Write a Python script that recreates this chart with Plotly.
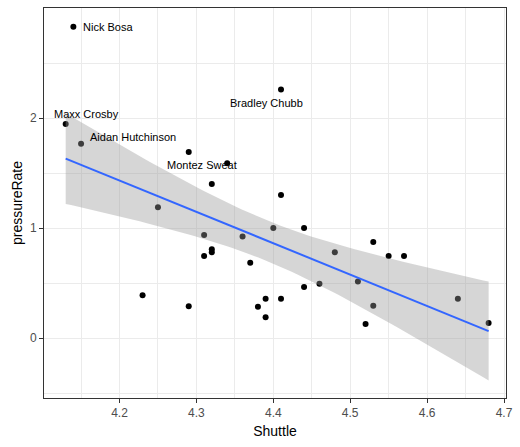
import numpy as np
import plotly.graph_objects as go

# ---- data ----
shuttle = [4.14, 4.13, 4.15, 4.29, 4.34, 4.32, 4.41, 4.41, 4.25, 4.31, 4.36, 4.40,
           4.44, 4.31, 4.32, 4.32, 4.37, 4.48, 4.53, 4.55, 4.57, 4.44, 4.46, 4.51,
           4.53, 4.52, 4.64, 4.68, 4.39, 4.41, 4.38, 4.39, 4.23, 4.29]
pressure_rate = [2.83, 1.945, 1.766, 1.69, 1.588, 1.40, 2.26, 1.30, 1.19, 0.936, 0.924, 1.00,
                 1.00, 0.745, 0.806, 0.78, 0.685, 0.78, 0.873, 0.745, 0.745, 0.464, 0.494, 0.515,
                 0.294, 0.127, 0.357, 0.136, 0.357, 0.357, 0.285, 0.188, 0.388, 0.29]
label_names = ["Nick Bosa", "Maxx Crosby", "Aidan Hutchinson", "Montez Sweat", "Bradley Chubb"]
label_index = [0, 1, 2, 4, 6]
x_ticks = [4.2, 4.3, 4.4, 4.5, 4.6, 4.7]
y_ticks = [0, 1, 2]
title_text = "pressureRate vs Shuttle (Edge Rushing)"

# ---- linear fit with 95% confidence band (as geom_smooth(method='lm')) ----
x = np.array(shuttle)
y = np.array(pressure_rate)
n = len(x)
slope, intercept = np.polyfit(x, y, 1)
resid = y - (slope * x + intercept)
s = np.sqrt(np.sum(resid ** 2) / (n - 2))
sxx = np.sum((x - x.mean()) ** 2)
t_crit = 2.037  # t(0.975, df=32)
xf = np.linspace(x.min(), x.max(), 80)
yf = slope * xf + intercept
se = s * np.sqrt(1 / n + (xf - x.mean()) ** 2 / sxx)
upper = yf + t_crit * se
lower = yf - t_crit * se

fig = go.Figure()
fig.add_trace(go.Scatter(x=shuttle, y=pressure_rate, mode="markers",
                         marker=dict(color="black", size=6), hoverinfo="x+y"))
fig.add_trace(go.Scatter(x=np.concatenate([xf, xf[::-1]]), y=np.concatenate([upper, lower[::-1]]),
                         fill="toself", fillcolor="rgba(153,153,153,0.4)", mode="lines",
                         line=dict(width=0), hoverinfo="skip"))
fig.add_trace(go.Scatter(x=xf, y=yf, mode="lines", line=dict(color="#3366FF", width=2),
                         hoverinfo="skip"))

# label offsets in pixels (style)
offsets = {"Nick Bosa": (8, 0, "left"), "Maxx Crosby": (21, 10, "center"),
           "Aidan Hutchinson": (7, 7, "left"), "Montez Sweat": (-25, -2, "center"),
           "Bradley Chubb": (-15, -14, "center")}
for name, idx in zip(label_names, label_index):
    dx, dy, anc = offsets[name]
    fig.add_annotation(x=shuttle[idx], y=pressure_rate[idx], text=name, showarrow=False,
                       xanchor=anc, yanchor="middle", xshift=dx, yshift=dy,
                       font=dict(family="Liberation Sans, Arial", size=11, color="black"))

# title is cut off at the top edge in the reference; only descenders show
fig.add_annotation(x=0.5, y=1, xref="paper", yref="paper", text=title_text, showarrow=False,
                   xanchor="center", yanchor="bottom", yshift=5,
                   font=dict(family="Liberation Sans, Arial", size=17, color="black"))

axis_common = dict(showline=True, linecolor="#333333", linewidth=1, mirror=True,
                   ticks="outside", ticklen=4, tickcolor="#333333", tickwidth=1,
                   showgrid=True, gridcolor="#ebebeb", gridwidth=1, zeroline=False,
                   tickfont=dict(family="Liberation Sans, Arial", size=12, color="#4d4d4d"))

fig.update_xaxes(range=[4.1018, 4.7026], tickvals=x_ticks, ticktext=[f"{v:.1f}" for v in x_ticks],
                 minor=dict(tick0=4.15, dtick=0.1, showgrid=True, gridcolor="#ebebeb",
                            gridwidth=0.5, ticks=""),
                 title=dict(text="Shuttle", standoff=6,
                            font=dict(family="Liberation Sans, Arial", size=14, color="black")),
                 **axis_common)
fig.update_yaxes(range=[-0.545, 3.0], tickvals=y_ticks, ticktext=[str(v) for v in y_ticks],
                 minor=dict(tick0=-0.5, dtick=1, showgrid=True, gridcolor="#ebebeb",
                            gridwidth=0.5, ticks=""),
                 title=dict(text="pressureRate", standoff=4,
                            font=dict(family="Liberation Sans, Arial", size=14, color="black")),
                 **axis_common)

fig.update_layout(width=520, height=447, margin=dict(l=44, r=7, t=8, b=49),
                  paper_bgcolor="white", plot_bgcolor="white", showlegend=False,
                  font=dict(family="Liberation Sans, Arial"))
fig.write_html("out.html")
